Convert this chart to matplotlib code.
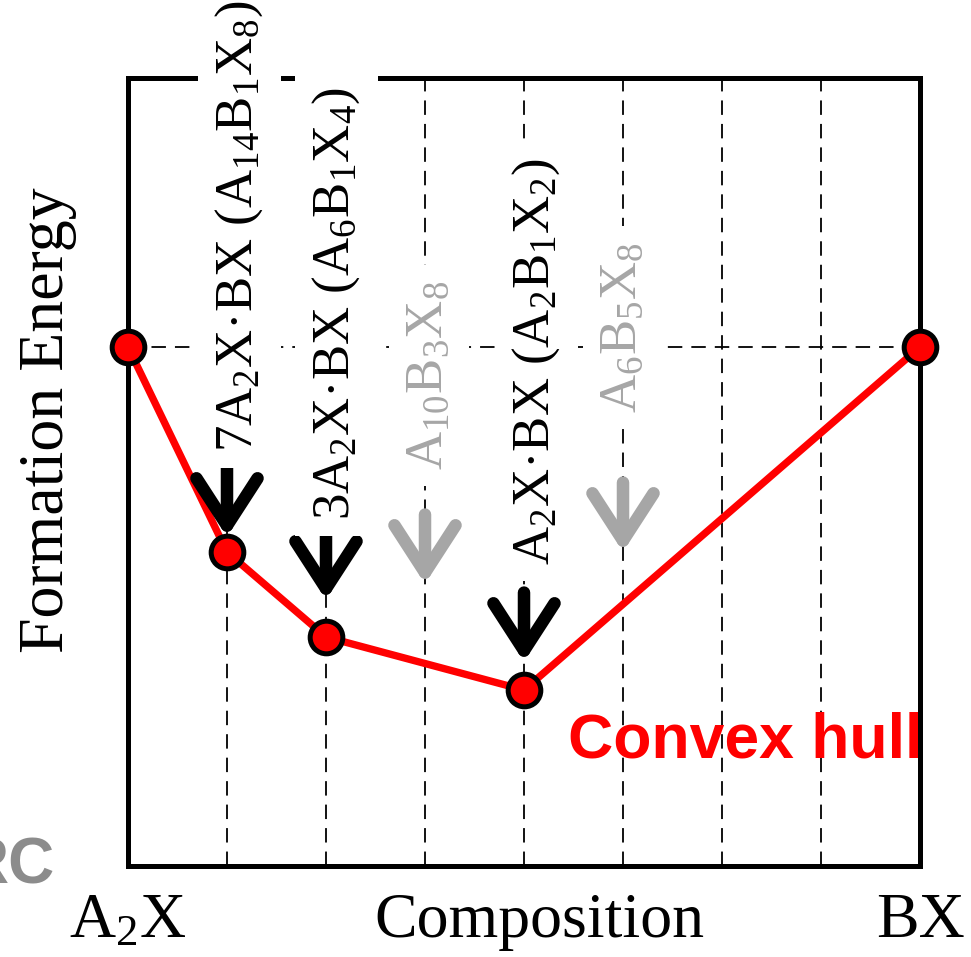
import numpy as np
import matplotlib.pyplot as plt

plt.rcParams['font.family'] = ['Liberation Serif', 'DejaVu Serif']
plt.rcParams['mathtext.fontset'] = 'custom'
plt.rcParams['mathtext.rm'] = 'Liberation Serif'
plt.rcParams['mathtext.it'] = 'Liberation Serif:italic'
plt.rcParams['mathtext.bf'] = 'Liberation Serif:bold'

# composition = fraction of BX, energies in arbitrary units
grid_x = [1/8, 2/8, 3/8, 4/8, 5/8, 6/8, 7/8]
hull_x = [0, 1/8, 2/8, 4/8, 1]
hull_E = [0, -2.05, -2.90, -3.43, 0]

# labelled compounds (stable ones black, others gray)
comp_x = [1/8, 2/8, 3/8, 4/8, 5/8]
comp_labels = [r'7A$_2$X·BX (A$_{14}$B$_1$X$_8$)',
               r'3A$_2$X·BX (A$_6$B$_1$X$_4$)',
               r'A$_{10}$B$_3$X$_8$',
               r'A$_2$X·BX (A$_2$B$_1$X$_2$)',
               r'A$_6$B$_5$X$_8$']
comp_stable = [True, True, False, True, False]
arrow_tip = [-1.90, -2.53, -2.37, -3.15, -2.05]
label_start = [-1.05, -1.73, -1.23, -2.18, -0.66]
label_dx = [18, 16.5, 12, 18, 9.5]

gray = '#a6a6a6'

fig = plt.figure(figsize=(9.71, 9.57), dpi=100)
ax = fig.add_axes([128/971, 91/957, 792/971, 788/957])
ax.set_xlim(0, 1)
ax.set_ylim(-5.19, 2.69)

dash = (0, (8, 5))
for gx in grid_x:
    ax.axvline(gx, color='black', lw=1.3, linestyle=dash, zorder=1)
ax.axhline(0, color='black', lw=1.3, linestyle=dash, zorder=1)

ax.plot(hull_x, hull_E, color='red', lw=5.3, zorder=3, solid_capstyle='round')
ax.plot(hull_x, hull_E, 'o', ms=23.5, mfc='red', mec='black', mew=3.6,
        zorder=4, clip_on=False)

for x, lab, ok, tip, start, dx in zip(comp_x, comp_labels, comp_stable,
                                      arrow_tip, label_start, label_dx):
    c = 'black' if ok else gray
    ax.annotate('', xy=(x, tip), xytext=(0, 50), textcoords='offset points',
                arrowprops=dict(arrowstyle='->,head_length=3.4,head_width=2.2',
                                color=c, lw=9, mutation_scale=10,
                                shrinkA=0, shrinkB=0, capstyle='round',
                                joinstyle='round'),
                zorder=5)
    ax.annotate(lab, xy=(x, start), xytext=(dx, 0), textcoords='offset points',
                rotation=90, rotation_mode='anchor', ha='left', va='baseline',
                fontsize=38, color=c, zorder=6, annotation_clip=False,
                bbox=dict(boxstyle='square,pad=0.3', fc='white', ec='none'))

ax.text(0.556, -4.11, 'Convex hull', color='red', fontsize=45,
        fontweight='bold', family=['Liberation Sans', 'DejaVu Sans'],
        ha='left', va='baseline', zorder=6)

# axis texts
ax.set_xticks([])
ax.set_yticks([])
xt = ax.get_xaxis_transform()
ax.text(0, -0.090, r'A$_2$X', transform=xt, fontsize=46, ha='center', va='baseline')
ax.text(1, -0.090, 'BX', transform=xt, fontsize=46, ha='center', va='baseline')
ax.text(0.52, -0.090, 'Composition', transform=ax.transAxes, fontsize=46,
        ha='center', va='baseline')
ax.text(-0.082, 0.566, 'Formation Energy', transform=ax.transAxes, fontsize=46,
        rotation=90, rotation_mode='anchor', ha='center', va='baseline')

for s in ax.spines.values():
    s.set_linewidth(3.6)
    s.set_color('black')

fig.text(55/971, (957-883)/957, 'RC', color='#8c8c8c', fontsize=46,
         fontweight='bold', family=['Liberation Sans', 'DejaVu Sans'],
         ha='right', va='baseline')

fig.savefig('out.png', dpi=100)
